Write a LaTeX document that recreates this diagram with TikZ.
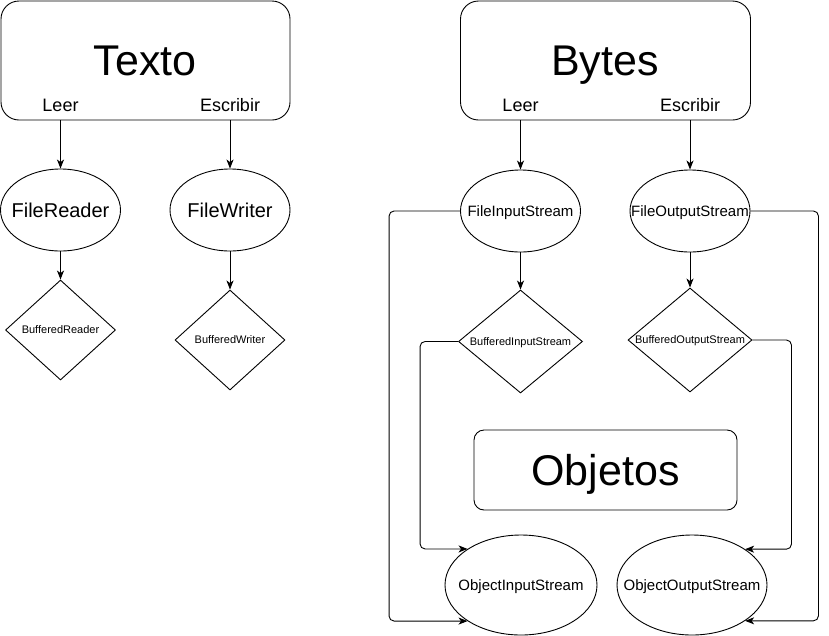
\documentclass[tikz,border=0pt]{standalone}
\usepackage{fontspec}
\setmainfont{Liberation Sans}
\usetikzlibrary{shapes.geometric,arrows.meta}
\newcommand{\zw}[1]{\makebox[0pt][c]{#1}}
\begin{document}
\begin{tikzpicture}[x=1pt,y=-1pt,
  box/.style={draw, rounded corners=18pt, inner sep=0pt, line width=0.9pt},
  ell/.style={draw, ellipse, inner sep=0pt, text depth=0pt, line width=0.9pt},
  dia/.style={draw, diamond, aspect=1.2, inner sep=0pt, text depth=0pt, line width=0.9pt, font=\fontsize{11}{13}\selectfont},
  big/.style={font=\fontsize{43}{50}\selectfont, anchor=base, inner sep=0pt},
  lbl/.style={font=\fontsize{18}{21}\selectfont, anchor=base, inner sep=0pt},
  arr/.style={-{Stealth[length=9pt,width=7pt,inset=2.5pt]}, line width=0.9pt},
  elbow/.style={arr, rounded corners=5pt}]
\useasboundingbox (0,0) rectangle (829,635);

% Texto group
\node[box, minimum width=289pt, minimum height=119pt] (texto) at (145.5,60.5) {};
\node[big] (textoT) at (145,75) {Texto};
\node[lbl] (leer1) at (60.5,111) {Leer};
\node[lbl] (esc1) at (230,111) {Escribir};
\node[ell, minimum width=120pt, minimum height=82pt, font=\fontsize{20}{24}\selectfont] (fr) at (60.5,210) {\zw{FileReader}};
\node[ell, minimum width=120pt, minimum height=82pt, font=\fontsize{20}{24}\selectfont] (fw) at (230,210) {\zw{FileWriter}};
\node[dia, minimum width=110pt, minimum height=100pt] (br) at (60.5,330) {\zw{BufferedReader}};
\node[dia, minimum width=110pt, minimum height=100pt] (bw) at (230,340) {\zw{BufferedWriter}};

\draw[arr] (fr.north |- texto.south) -- (fr.north);
\draw[arr] (fw.north |- texto.south) -- (fw.north);
\draw[arr] (fr.south) -- (br.north);
\draw[arr] (fw.south) -- (bw.north);

% Bytes group
\node[box, minimum width=290pt, minimum height=119pt] (bytes) at (605.5,60.5) {};
\node[big] (bytesT) at (605,75) {Bytes};
\node[lbl] (leer2) at (520.5,111) {Leer};
\node[lbl] (esc2) at (690,111) {Escribir};
\node[ell, minimum width=120pt, minimum height=82pt, font=\fontsize{15}{18}\selectfont] (fis) at (520.5,211) {\zw{FileInputStream}};
\node[ell, minimum width=120pt, minimum height=82pt, font=\fontsize{15}{18}\selectfont] (fos) at (690,211) {\zw{FileOutputStream}};
\node[dia, minimum width=124pt, minimum height=103pt] (bis) at (520.5,341.5) {\zw{BufferedInputStream}};
\node[dia, minimum width=124pt, minimum height=104pt] (bos) at (690,340) {\zw{BufferedOutputStream}};

\node[box, rounded corners=10pt, minimum width=263pt, minimum height=80pt] (obj) at (605.5,470) {};
\node[big] (objT) at (605.5,485) {Objetos};

\node[ell, minimum width=152pt, minimum height=100pt, font=\fontsize{15}{18}\selectfont] (ois) at (521,585) {\zw{ObjectInputStream}};
\node[ell, minimum width=150pt, minimum height=100pt, font=\fontsize{15}{18}\selectfont] (oos) at (692,585) {\zw{ObjectOutputStream}};

\draw[arr] (fis.north |- bytes.south) -- (fis.north);
\draw[arr] (fos.north |- bytes.south) -- (fos.north);
\draw[arr] (fis.south) -- (bis.north);
\draw[arr] (fos.south) -- (bos.north);

\draw[elbow] (fis.west) -- ++(-71,0) |- (ois.214);
\draw[elbow] (bis.west) -- ++(-38,0) |- (ois.146);
\draw[elbow] (bos.east) -- ++(39,0) |- (oos.34);
\draw[elbow] (fos.east) -- ++(68,0) |- (oos.326);
\end{tikzpicture}
\end{document}
